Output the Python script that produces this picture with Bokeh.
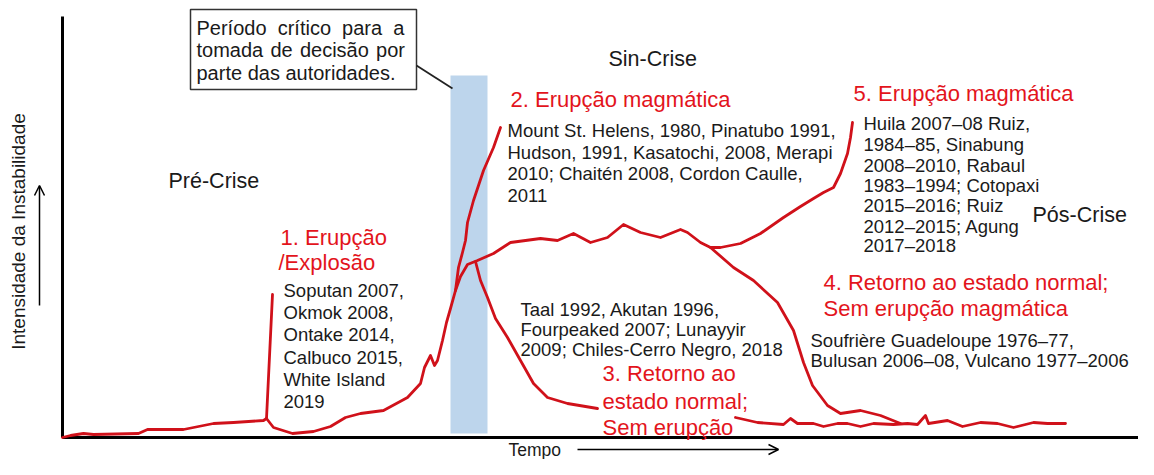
from math import pi
from bokeh.plotting import figure
from bokeh.models import ColumnDataSource, Range1d, Arrow, OpenHead
from bokeh.core.properties import value
from bokeh.embed import file_html
from bokeh.resources import INLINE

# ---------------- data (time t, instability intensity I) ----------------
pre_t = [0, 8, 21, 31, 76, 85, 121, 151, 171, 201, 204]
pre_i = [0, 2, 4, 3, 4, 8, 8, 14, 15, 17, 19]

spike_t = [204, 210]
spike_i = [19, 143]

rise_t = [204, 211, 230, 251, 268, 283, 298, 321, 345, 358, 362, 368, 372, 375, 380, 384, 388, 393,
          398, 405, 415, 431, 448, 478, 495, 511, 528, 545, 561, 578, 598, 618, 625, 638, 648,
          658, 678, 698, 721, 738, 751, 761, 771, 778, 785, 788, 790]
rise_i = [19, 10, 4, 6, 11, 20, 24, 27, 40, 54, 70, 82, 72, 77, 97, 115, 129, 147,
          161, 173, 177, 184, 195, 199, 197, 204, 195, 200, 213, 205, 200, 208, 205, 195, 190,
          190, 194, 204, 220, 231, 239, 245, 250, 264, 284, 300, 315]

mag_t = [393, 396, 400, 403, 405, 411, 421, 431, 438]
mag_i = [147, 170, 185, 197, 215, 237, 267, 290, 310]

ret3_t = [413, 418, 425, 433, 445, 458, 471, 485, 505, 535]
ret3_i = [176, 157, 140, 119, 100, 77, 54, 40, 34, 29]

ret4_t = [648, 671, 691, 715, 731, 741, 750, 765, 778, 798, 818, 838]
ret4_i = [190, 170, 157, 135, 107, 75, 52, 32, 24, 27, 22, 14]

post_t = [673, 695, 721, 728, 735, 751, 761, 775, 785, 798, 811, 831, 845, 855, 863, 866, 885,
          900, 918, 935, 951, 971, 985, 1003]
post_i = [20, 15, 13, 19, 14, 14, 11, 14, 14, 11, 14, 13, 14, 13, 22, 14, 17,
          11, 15, 14, 10, 15, 14, 14]

# ---------------- texts ----------------
phase_labels = ["Pré-Crise", "Sin-Crise", "Pós-Crise"]
red_labels = ["1. Erupção", "/Explosão", "2. Erupção magmática", "3. Retorno ao",
              "estado normal;", "Sem erupção", "4. Retorno ao estado normal;",
              "Sem erupção magmática", "5. Erupção magmática"]
list1 = ["Soputan 2007,", "Okmok 2008,", "Ontake 2014,", "Calbuco 2015,", "White Island", "2019"]
list2 = ["Mount St. Helens, 1980, Pinatubo 1991,", "Hudson, 1991, Kasatochi, 2008, Merapi",
         "2010; Chaitén 2008, Cordon Caulle,", "2011"]
list3 = ["Taal 1992, Akutan 1996,", "Fourpeaked 2007; Lunayyir", "2009; Chiles-Cerro Negro, 2018"]
list4 = ["Soufrière Guadeloupe 1976–77,", "Bulusan 2006–08, Vulcano 1977–2006"]
list5 = ["Huila 2007–08 Ruiz,", "1984–85, Sinabung", "2008–2010, Rabaul", "1983–1994; Cotopaxi",
         "2015–2016; Ruiz", "2012–2015; Agung", "2017–2018"]
box_lines = ["Período \u00a0crítico \u00a0para \u00a0a",
             "tomada \u200ade \u200adecisão \u200apor",
             "parte das autoridades."]
x_label = "Tempo"
y_label = "Intensidade da Instabilidade"

# ---------------- layout ----------------
RED_LINE = "#d0111a"
RED_TEXT = "#e3141c"
BLACK = "#1a1a1a"
FONT = value("Liberation Sans")

p = figure(width=1138, height=459, output_backend="svg", toolbar_location=None,
           x_range=Range1d(-62, 1076), y_range=Range1d(-22, 437),
           x_axis_type=None, y_axis_type=None, min_border=0)
p.grid.visible = False
p.outline_line_color = None
p.background_fill_color = "white"

# critical period band
p.quad(left=[388], right=[425], bottom=[4], top=[362], fill_color="#bdd5ec", line_color=None)

# axes lines
p.line([0, 0], [0, 421], line_color="black", line_width=3)
p.line([0, 1080], [0, 0], line_color="black", line_width=3)

# curves
for xs, ys in [(pre_t, pre_i), (spike_t, spike_i), (rise_t, rise_i), (mag_t, mag_i),
               (ret3_t, ret3_i), (ret4_t, ret4_i), (post_t, post_i)]:
    p.line(xs, ys, line_color=RED_LINE, line_width=2.8, line_join="round", line_cap="round")

# callout box
p.quad(left=[128], right=[354], bottom=[348], top=[428], fill_color="white",
       line_color="#333333", line_width=1.5)
p.line([354, 390], [372, 349], line_color="#222222", line_width=1.8)


def put(lines, xs, ys, color, size, **kw):
    src = ColumnDataSource(dict(x=xs, y=ys, t=lines))
    p.text(x="x", y="y", text="t", source=src, text_color=color, text_font=FONT,
           text_font_size=size, text_baseline="middle", **kw)


put(box_lines, [134] * 3, [410, 388, 365], BLACK, "20px")
put(phase_labels, [106, 546, 970], [257, 379, 223], BLACK, "21.5px")
put(red_labels, [218, 216, 448, 540, 540, 540, 761, 761, 791],
    [200, 175, 338, 64, 36, 10, 155, 129, 344], RED_TEXT, "22px")
put(list1, [221] * 6, [147, 125, 103, 80, 58, 36], BLACK, "18.5px")
put(list2, [445] * 4, [307, 285, 264, 242], BLACK, "18.5px")
put(list3, [458] * 3, [128, 108, 88], BLACK, "18.5px")
put(list4, [748] * 2, [97, 77], BLACK, "18.5px")
put(list5, [801] * 7, [314, 293, 272, 252, 232, 211, 192], BLACK, "18.5px")

# axis titles
put([x_label], [446], [-12], BLACK, "17.5px")
put([y_label], [-44], [206], BLACK, "19px", angle=pi / 2, text_align="center")

# direction arrows
p.add_layout(Arrow(end=OpenHead(size=10, line_width=1.5, line_color="black"),
                   x_start=515, y_start=-12, x_end=716, y_end=-12,
                   line_width=1.5, line_color="black"))
p.add_layout(Arrow(end=OpenHead(size=10, line_width=1.5, line_color="black"),
                   x_start=-23, y_start=132, x_end=-23, y_end=252,
                   line_width=1.5, line_color="black"))

open("out.html", "w").write(file_html(p, INLINE))
